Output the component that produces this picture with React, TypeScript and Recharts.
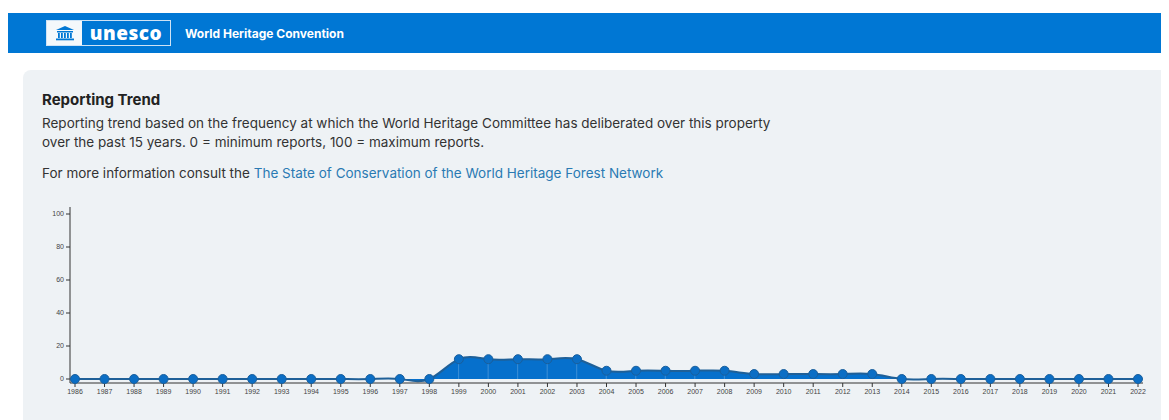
import { ComposedChart, Area, Line, Bar, XAxis, YAxis } from "recharts"

// years shown on the x axis
const years = [
  1986, 1987, 1988, 1989, 1990, 1991, 1992, 1993, 1994, 1995, 1996, 1997, 1998,
  1999, 2000, 2001, 2002, 2003, 2004, 2005, 2006, 2007, 2008, 2009, 2010, 2011,
  2012, 2013, 2014, 2015, 2016, 2017, 2018, 2019, 2020, 2021, 2022,
]

// reporting trend value per year (0 - 100)
const reports = [
  0, 0, 0, 0, 0, 0, 0, 0, 0, 0, 0, 0, 0,
  12, 12, 12, 12, 12, 5, 5, 5, 5, 5, 3, 3, 3,
  3, 3, 0, 0, 0, 0, 0, 0, 0, 0, 0,
]

const yTicks = [0, 20, 40, 60, 80, 100]

const data = years.map((year, i) => ({ year, value: reports[i] }))

const BLUE = "#0077d4"

function TempleIcon() {
  return (
    <svg width="20" height="16" viewBox="0 0 20 16">
      <polygon points="10,1 19,5 1,5" fill={BLUE} />
      <rect x="2" y="6" width="16" height="1.5" fill={BLUE} />
      {[3, 6, 9, 12, 15].map((x) => (
        <rect key={x} x={x} y="8" width="1.8" height="5" fill={BLUE} />
      ))}
      <rect x="1" y="13.5" width="18" height="1.8" fill={BLUE} />
    </svg>
  )
}

export default function App() {
  return (
    <div style={{ fontFamily: "Inter, 'Noto Sans', sans-serif", width: 1161 }}>
      {/* header bar */}
      <div
        style={{
          marginTop: 5,
          height: 40,
          background: BLUE,
          display: "flex",
          alignItems: "center",
        }}
      >
        <div
          style={{
            marginLeft: 38,
            height: 26,
            display: "flex",
            border: "1px solid #cfe3f5",
            boxSizing: "border-box",
          }}
        >
          <div
            style={{
              width: 35,
              background: "#f4f8fb",
              display: "flex",
              alignItems: "center",
              justifyContent: "center",
            }}
          >
            <TempleIcon />
          </div>
          <div
            style={{
              width: 88,
              color: "#fff",
              fontWeight: 800,
              fontSize: 19,
              letterSpacing: 0.5,
              display: "flex",
              alignItems: "center",
              justifyContent: "center",
              fontFamily: "'Open Sans', sans-serif",
            }}
          >
            unesco
          </div>
        </div>
        <div style={{ marginLeft: 14, color: "#fff", fontWeight: 700, fontSize: 12 }}>
          World Heritage Convention
        </div>
      </div>

      {/* panel */}
      <div
        style={{
          marginTop: 17,
          marginLeft: 15,
          background: "#eef2f5",
          borderRadius: "8px 0 0 0",
          height: 360,
          position: "relative",
          color: "#222",
        }}
      >
        <div style={{ position: "absolute", left: 19, top: 20, fontWeight: 700, fontSize: 15 }}>
          Reporting Trend
        </div>
        <div
          style={{
            position: "absolute",
            left: 19,
            top: 44,
            fontSize: 13.5,
            lineHeight: "19px",
            width: 745,
            color: "#333",
          }}
        >
          Reporting trend based on the frequency at which the World Heritage Committee has deliberated over this property
          over the past 15 years. 0 = minimum reports, 100 = maximum reports.
        </div>
        <div style={{ position: "absolute", left: 19, top: 95, fontSize: 13.5, color: "#333" }}>
          For more information consult the{" "}
          <span style={{ color: "#2a7ab3" }}>The State of Conservation of the World Heritage Forest Network</span>
        </div>

        <div style={{ position: "absolute", left: 7, top: 130 }}>
          <ComposedChart
            width={1120}
            height={205}
            data={data}
            margin={{ top: 7, right: 7, bottom: 2, left: 10 }}
          >
            <XAxis
              dataKey="year"
              type="number"
              domain={[1986, 2022]}
              ticks={years}
              interval={0}
              padding={{ left: 5, right: 5 }}
              tick={{ fontSize: 7, fill: "#444", fontFamily: "'Liberation Sans', Arial, sans-serif" }}
              tickSize={4}
              tickLine={{ stroke: "#333" }}
              axisLine={{ stroke: "#333" }}
              height={20}
            />
            <YAxis
              domain={[0, 100]}
              ticks={yTicks}
              width={30}
              padding={{ top: 7, bottom: 4 }}
              tick={{ fontSize: 7, fill: "#444", fontFamily: "'Liberation Sans', Arial, sans-serif" }}
              tickSize={4}
              tickLine={{ stroke: "#333" }}
              axisLine={{ stroke: "#333" }}
            />
            <Area
              type="natural"
              dataKey="value"
              fill="#0670cc"
              fillOpacity={1}
              stroke="none"
              dot={false}
              activeDot={false}
              isAnimationActive={false}
            />
            <Bar dataKey="value" barSize={1} fill="rgba(255,255,255,0.22)" isAnimationActive={false} />
            <Line
              type="natural"
              dataKey="value"
              stroke="#1f6098"
              strokeWidth={2}
              dot={{ r: 4.5, fill: "#0b6ec5", stroke: "#1a5f9c", strokeWidth: 1 }}
              activeDot={false}
              isAnimationActive={false}
            />
          </ComposedChart>
        </div>
      </div>
    </div>
  )
}
